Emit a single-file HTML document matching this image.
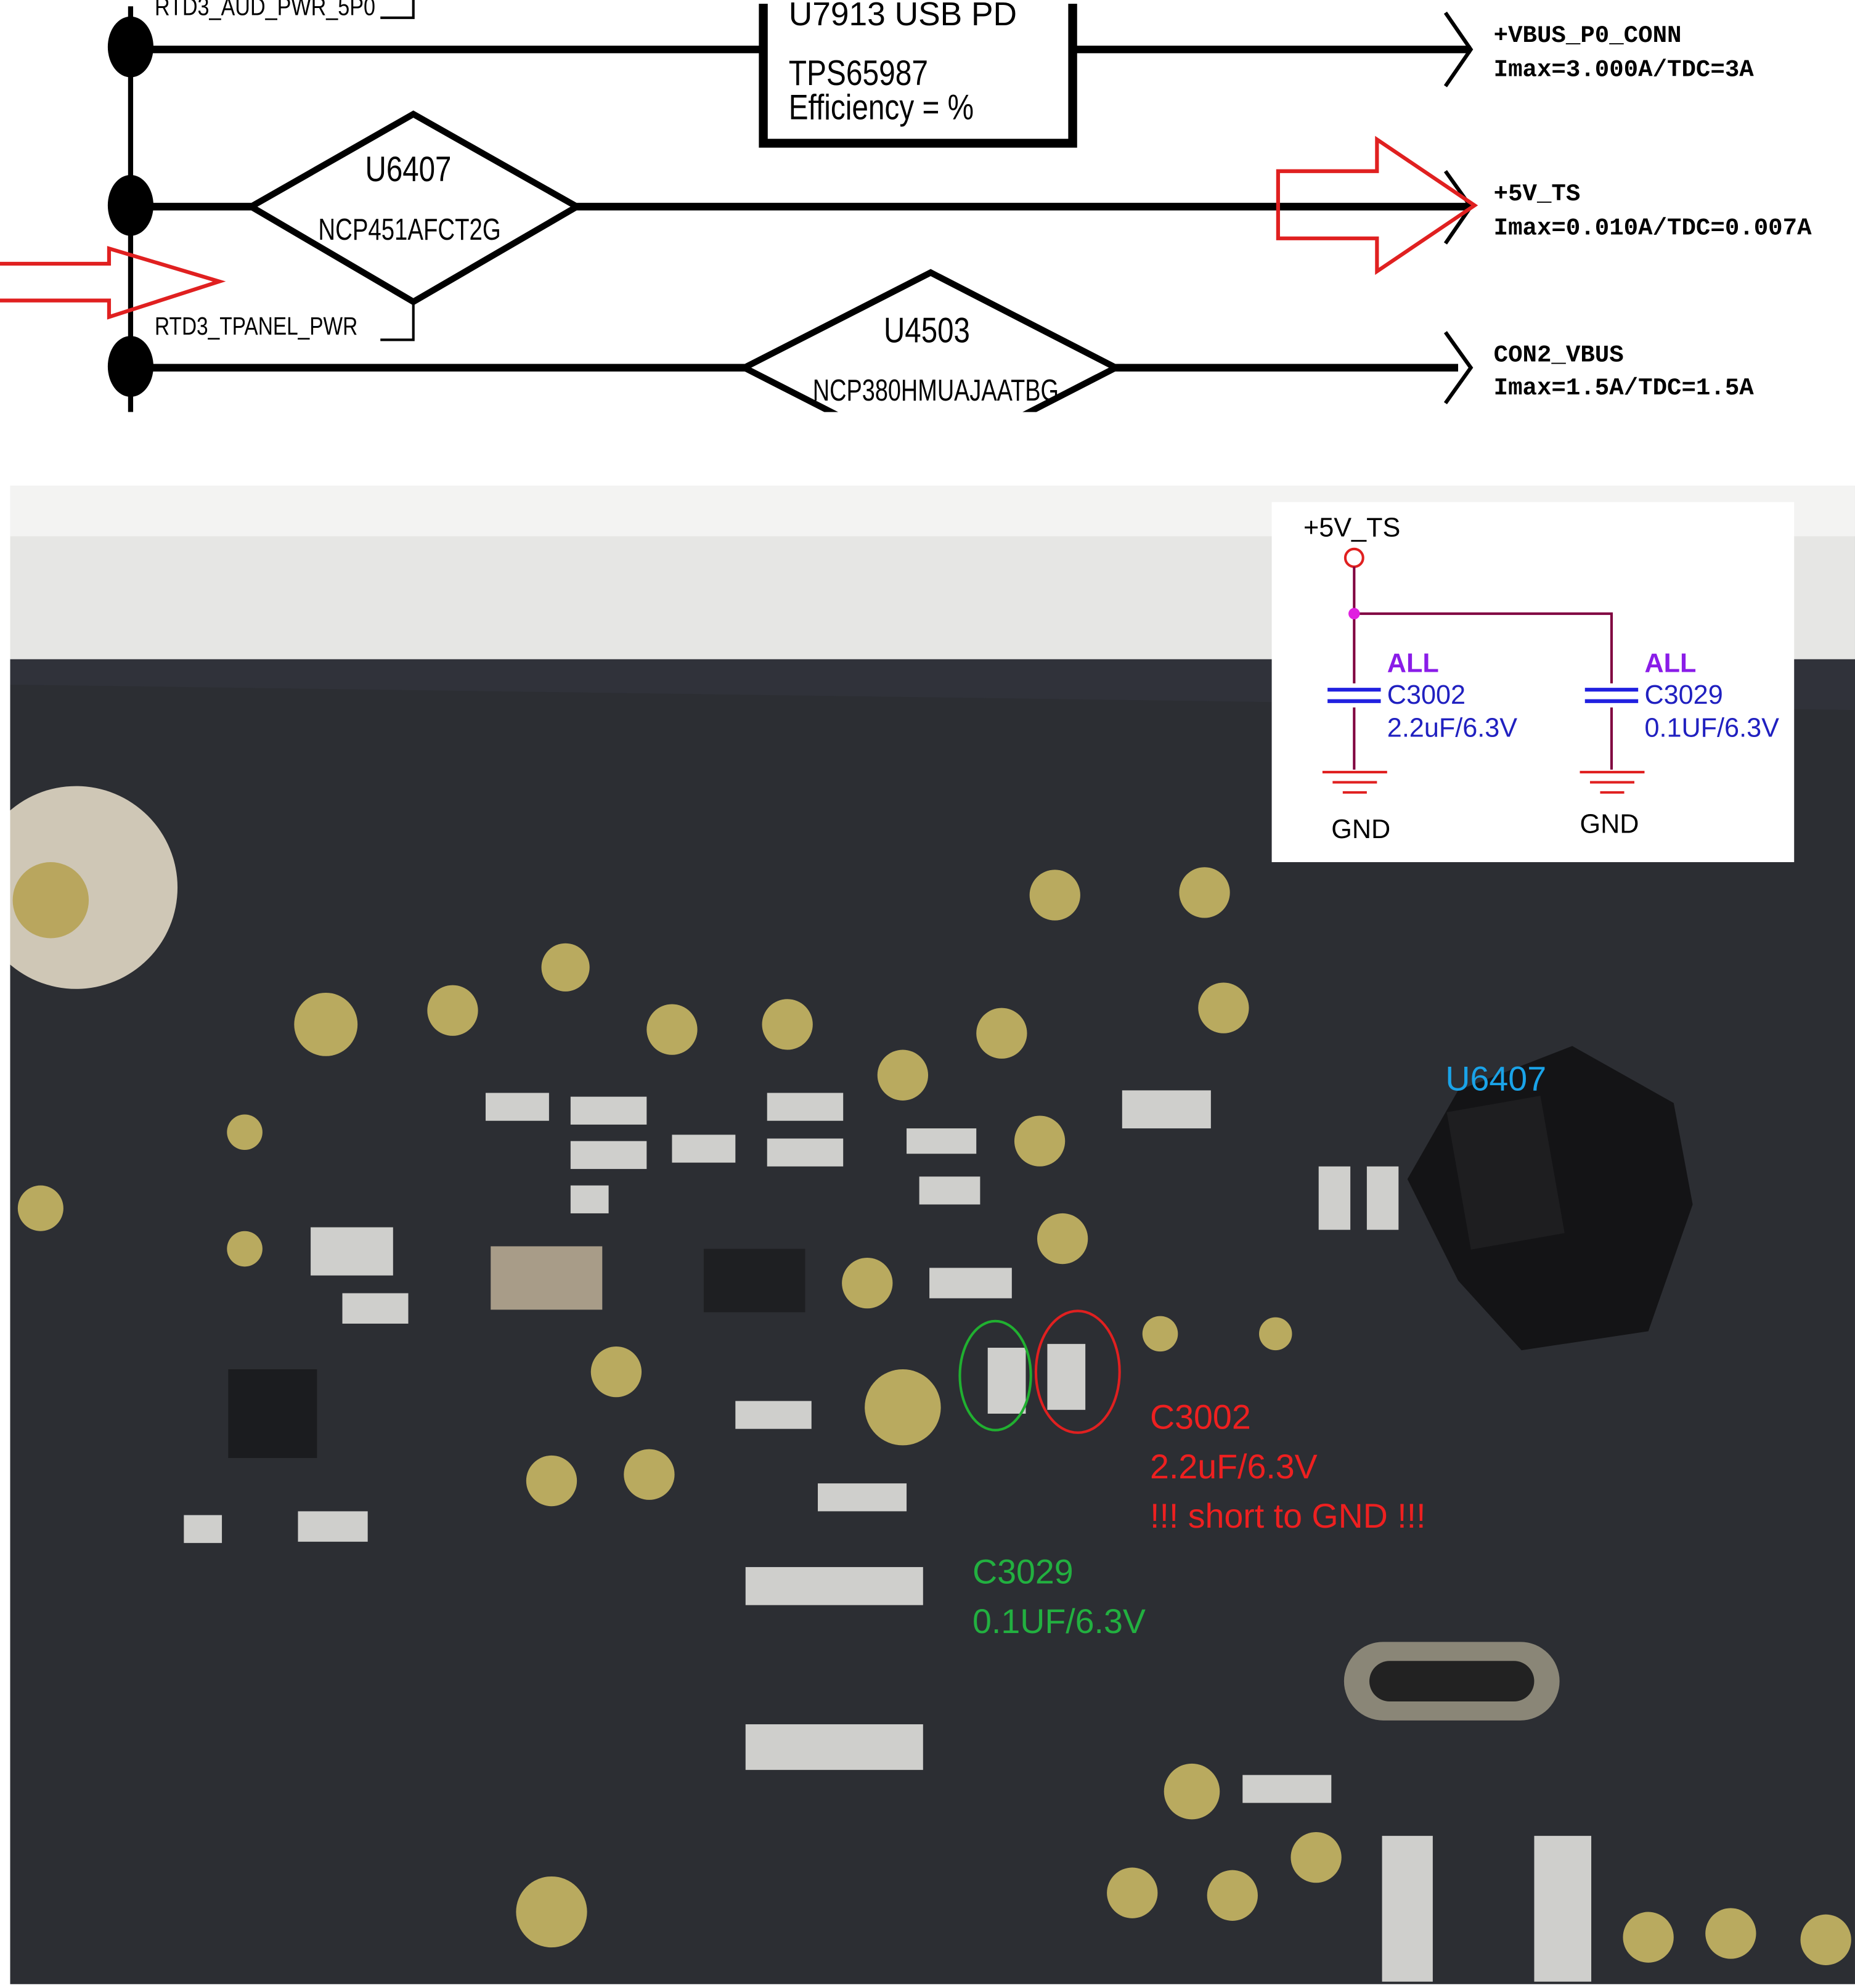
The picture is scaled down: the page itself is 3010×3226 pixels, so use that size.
<!DOCTYPE html>
<html><head><meta charset="utf-8"><style>html,body{margin:0;padding:0;background:#fff}svg{display:block}</style></head>
<body>
<svg width="3010" height="3226" viewBox="0 0 1463 1568" xmlns="http://www.w3.org/2000/svg" font-family="Liberation Sans, sans-serif">
<defs>
<clipPath id="top"><rect x="0" y="0" width="1463" height="325"/></clipPath>
<clipPath id="photo"><rect x="8" y="383" width="1455" height="1182"/></clipPath>
</defs>
<rect width="1463" height="1568" fill="#fff"/>
<!-- top schematic -->
<g clip-path="url(#top)">
<g stroke="#000" fill="none">
<line x1="103" y1="5" x2="103" y2="325" stroke-width="4"/>
<line x1="103" y1="39" x2="600" y2="39" stroke-width="6"/>
<line x1="845" y1="39" x2="1160" y2="39" stroke-width="6"/>
<line x1="103" y1="163" x2="1160" y2="163" stroke-width="6"/>
<line x1="103" y1="290" x2="1150" y2="290" stroke-width="6"/>
<polyline points="1140,10 1160,39 1140,68" stroke-width="3"/>
<polyline points="1140,135 1160,163 1140,192" stroke-width="3"/>
<polyline points="1140,262 1160,290 1140,318" stroke-width="3"/>
<polyline points="602,3 602,113 846,113 846,3" stroke-width="7"/>
<polygon points="198,163 326,90 455,163 326,238" stroke-width="5" fill="#fff"/>
<polygon points="587,290 734,215 880,290 734,365" stroke-width="5" fill="#fff"/>
<polyline points="300,14 326,14 326,0" stroke-width="2"/>
<polyline points="300,268 326,268 326,240" stroke-width="2"/>
</g>
<ellipse cx="103" cy="37" rx="18" ry="24"/>
<ellipse cx="103" cy="162" rx="18" ry="24"/>
<ellipse cx="103" cy="289" rx="18" ry="24"/>
<g font-size="22" fill="#000">
<text x="622" y="20" font-size="26" textLength="180" lengthAdjust="spacingAndGlyphs">U7913   USB PD</text>
<text x="622" y="67" font-size="28" textLength="110" lengthAdjust="spacingAndGlyphs">TPS65987</text>
<text x="622" y="94" font-size="28" textLength="146" lengthAdjust="spacingAndGlyphs">Efficiency = %</text>
<text x="288" y="143" font-size="28" textLength="68" lengthAdjust="spacingAndGlyphs">U6407</text>
<text x="251" y="189" font-size="24" textLength="144" lengthAdjust="spacingAndGlyphs">NCP451AFCT2G</text>
<text x="697" y="270" font-size="28" textLength="68" lengthAdjust="spacingAndGlyphs">U4503</text>
<text x="641" y="316" font-size="24" textLength="194" lengthAdjust="spacingAndGlyphs">NCP380HMUAJAATBG</text>
<text x="122" y="264" font-size="20" textLength="160" lengthAdjust="spacingAndGlyphs">RTD3_TPANEL_PWR</text>
<text x="122" y="12" font-size="20" textLength="174" lengthAdjust="spacingAndGlyphs">RTD3_AUD_PWR_5P0</text>
</g>
</g>
<g font-family="Liberation Mono, monospace" font-weight="bold" font-size="19" fill="#000">
<text x="1178" y="33">+VBUS_P0_CONN</text><text x="1178" y="60">Imax=3.000A/TDC=3A</text>
<text x="1178" y="158">+5V_TS</text><text x="1178" y="185">Imax=0.010A/TDC=0.007A</text>
<text x="1178" y="285">CON2_VBUS</text><text x="1178" y="311">Imax=1.5A/TDC=1.5A</text>
</g>
<g stroke="#e02020" stroke-width="3" fill="none">
<polyline points="0,208 86,208 86,196 173,222 86,250 86,237 0,237"/>
<polygon points="1008,135 1086,135 1086,110 1163,162 1086,214 1086,188 1008,188"/>
</g>
<!-- photo -->
<g clip-path="url(#photo)">
<rect x="8" y="383" width="1455" height="1182" fill="#2c2e33"/>
<rect x="8" y="383" width="1455" height="137" fill="#e6e6e4"/>
<rect x="8" y="383" width="1455" height="40" fill="#f3f3f2"/>
<path d="M8,520 L1463,520 L1463,560 L8,540 Z" fill="#30323a"/>
<circle cx="60" cy="700" r="80" fill="#cfc7b6"/>
<circle cx="40" cy="710" r="30" fill="#b9a65e"/>
<g fill="#b9aa5f">
<circle cx="832" cy="706" r="20"/><circle cx="950" cy="704" r="20"/><circle cx="446" cy="763" r="19"/>
<circle cx="257" cy="808" r="25"/><circle cx="357" cy="797" r="20"/><circle cx="530" cy="812" r="20"/>
<circle cx="621" cy="808" r="20"/><circle cx="790" cy="815" r="20"/><circle cx="965" cy="795" r="20"/>
<circle cx="712" cy="848" r="20"/><circle cx="820" cy="900" r="20"/><circle cx="193" cy="893" r="14"/>
<circle cx="32" cy="953" r="18"/><circle cx="193" cy="985" r="14"/><circle cx="838" cy="977" r="20"/>
<circle cx="684" cy="1012" r="20"/><circle cx="486" cy="1082" r="20"/><circle cx="712" cy="1110" r="30"/>
<circle cx="915" cy="1052" r="14"/><circle cx="1006" cy="1052" r="13"/><circle cx="435" cy="1168" r="20"/>
<circle cx="512" cy="1163" r="20"/><circle cx="940" cy="1413" r="22"/><circle cx="1038" cy="1465" r="20"/>
<circle cx="893" cy="1493" r="20"/><circle cx="972" cy="1495" r="20"/><circle cx="435" cy="1508" r="28"/>
<circle cx="1300" cy="1528" r="20"/><circle cx="1365" cy="1525" r="20"/><circle cx="1440" cy="1530" r="20"/>
</g>
<g fill="#cfcfcc">
<rect x="383" y="862" width="50" height="22"/><rect x="387" y="983" width="88" height="50" fill="#a89c88"/>
<rect x="245" y="968" width="65" height="38"/><rect x="270" y="1020" width="52" height="24"/>
<rect x="450" y="865" width="60" height="22"/><rect x="450" y="900" width="60" height="22"/><rect x="450" y="935" width="30" height="22"/>
<rect x="530" y="895" width="50" height="22"/><rect x="605" y="862" width="60" height="22"/><rect x="605" y="898" width="60" height="22"/>
<rect x="715" y="890" width="55" height="20"/><rect x="725" y="928" width="48" height="22"/><rect x="733" y="1000" width="65" height="24"/>
<rect x="885" y="860" width="70" height="30"/><rect x="1040" y="920" width="25" height="50"/><rect x="1078" y="920" width="25" height="50"/>
<rect x="1268" y="917" width="22" height="42"/><rect x="1198" y="1014" width="40" height="22"/>
<rect x="580" y="1105" width="60" height="22"/><rect x="645" y="1170" width="70" height="22"/>
<rect x="145" y="1195" width="30" height="22"/><rect x="235" y="1192" width="55" height="24"/>
<rect x="588" y="1236" width="140" height="30"/><rect x="588" y="1360" width="140" height="36"/>
<rect x="980" y="1400" width="70" height="22"/><rect x="1090" y="1448" width="40" height="115"/><rect x="1210" y="1448" width="45" height="115"/>
<rect x="779" y="1063" width="30" height="52"/><rect x="826" y="1060" width="30" height="52"/>
</g>
<rect x="555" y="985" width="80" height="50" fill="#1e1f22"/>
<rect x="180" y="1080" width="70" height="70" fill="#1b1c1f"/>
<path d="M1150,860 L1240,825 L1320,870 L1335,950 L1300,1050 L1200,1065 L1150,1010 L1110,930 Z" fill="#141416"/>
<rect x="1150" y="870" width="75" height="110" fill="#1e1e20" transform="rotate(-10 1187 925)"/>
<rect x="1060" y="1295" width="170" height="62" rx="31" fill="#8a8677"/>
<rect x="1080" y="1310" width="130" height="32" rx="16" fill="#222"/>
</g>
<ellipse cx="785" cy="1085" rx="28" ry="43" fill="none" stroke="#20b030" stroke-width="2"/>
<ellipse cx="850" cy="1082" rx="33" ry="48" fill="none" stroke="#e02020" stroke-width="2"/>
<g font-size="27">
<text x="1140" y="860" fill="#1aa3e8">U6407</text>
<text x="907" y="1127" fill="#ee2020">C3002</text><text x="907" y="1166" fill="#ee2020">2.2uF/6.3V</text><text x="907" y="1205" fill="#ee2020">!!! short to GND !!!</text>
<text x="767" y="1249" fill="#22b040">C3029</text><text x="767" y="1288" fill="#22b040">0.1UF/6.3V</text>
</g>
<!-- inset -->
<rect x="1003" y="396" width="412" height="284" fill="#fff"/>
<g font-size="21">
<text x="1028" y="423" fill="#000">+5V_TS</text>
<circle cx="1068" cy="440" r="7" fill="none" stroke="#e02020" stroke-width="2"/>
<path d="M1068,447 V607 M1068,484 H1271 V607" stroke="#800040" stroke-width="2" fill="none"/>
<circle cx="1068" cy="484" r="4.5" fill="#e020e0"/>
<rect x="1062" y="539" width="12" height="19" fill="#fff"/><rect x="1265" y="539" width="12" height="19" fill="#fff"/>
<g stroke="#2020e0" stroke-width="3"><line x1="1047" y1="544" x2="1089" y2="544"/><line x1="1047" y1="553" x2="1089" y2="553"/><line x1="1250" y1="544" x2="1292" y2="544"/><line x1="1250" y1="553" x2="1292" y2="553"/></g>
<g stroke="#e02020" stroke-width="2"><line x1="1043" y1="609" x2="1094" y2="609"/><line x1="1051" y1="617" x2="1086" y2="617"/><line x1="1059" y1="625" x2="1078" y2="625"/>
<line x1="1246" y1="609" x2="1297" y2="609"/><line x1="1254" y1="617" x2="1289" y2="617"/><line x1="1262" y1="625" x2="1281" y2="625"/></g>
<text x="1094" y="530" fill="#8a1ce8" font-weight="bold">ALL</text><text x="1094" y="555" fill="#2020c0">C3002</text><text x="1094" y="581" fill="#2020c0">2.2uF/6.3V</text>
<text x="1297" y="530" fill="#8a1ce8" font-weight="bold">ALL</text><text x="1297" y="555" fill="#2020c0">C3029</text><text x="1297" y="581" fill="#2020c0">0.1UF/6.3V</text>
<text x="1050" y="661" fill="#000">GND</text><text x="1246" y="657" fill="#000">GND</text>
</g>
</svg>
</body></html>
